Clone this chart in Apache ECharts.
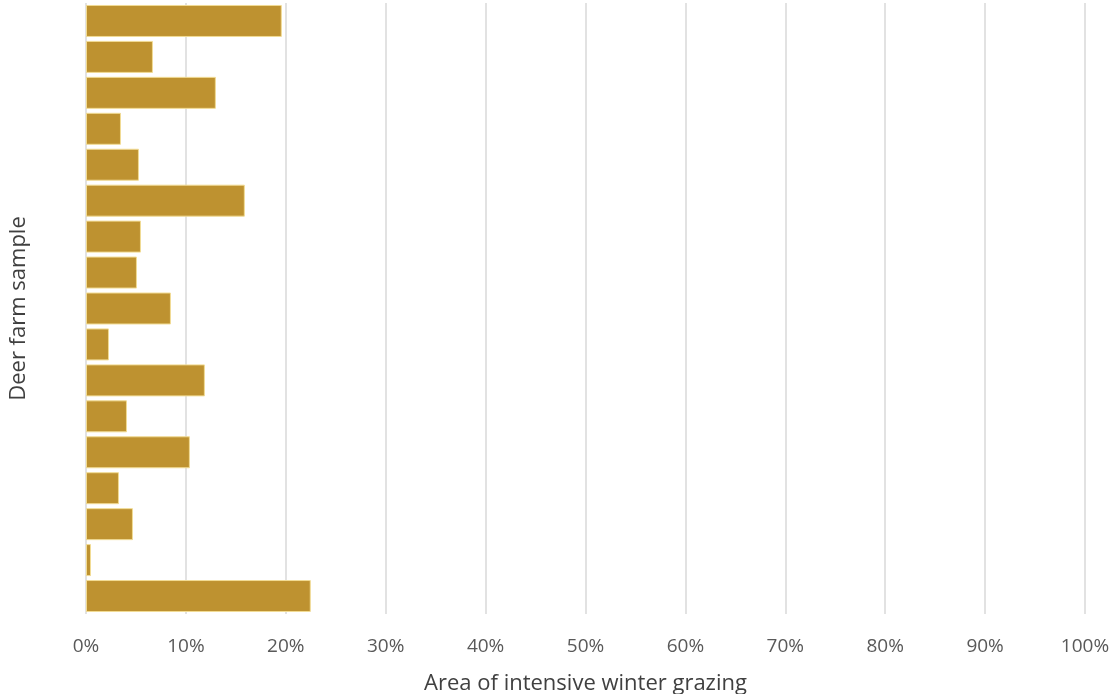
<!DOCTYPE html>
<html>
<head>
<meta charset="utf-8">
<script src="https://cdn.jsdelivr.net/npm/echarts@6/dist/echarts.min.js"></script>
<style>
  html, body { margin: 0; padding: 0; background: #fff; }
  #chart { width: 1113px; height: 694px; }
</style>
</head>
<body>
<div id="chart"></div>
<script>
// Farm samples, top to bottom
const farms = ['1','2','3','4','5','6','7','8','9','10','11','12','13','14','15','16','17'];
// Share of farm area under intensive winter grazing (%)
const grazingShare = [19.6, 6.7, 13.0, 3.5, 5.3, 15.9, 5.5, 5.1, 8.5, 2.3, 11.9, 4.1, 10.4, 3.3, 4.7, 0.5, 22.5];
const xTicks = { min: 0, max: 100, interval: 10 };

const chart = echarts.init(document.getElementById('chart'));
chart.setOption({
  animation: false,
  textStyle: { fontFamily: 'Open Sans, sans-serif' },
  grid: { left: 86, right: 28, top: 3, bottom: 80, containLabel: false, outerBoundsMode: 'none' },
  xAxis: {
    type: 'value',
    min: xTicks.min, max: xTicks.max, interval: xTicks.interval,
    axisLine: { show: false },
    axisTick: { show: false },
    splitLine: { show: true, lineStyle: { color: '#d9d9d9', width: 1.5 } },
    axisLabel: { formatter: '{value}%', color: '#595959', fontSize: 19, margin: 23 },
    name: 'Area of intensive winter grazing',
    nameLocation: 'middle',
    nameGap: 59,
    nameTextStyle: { color: '#404040', fontSize: 22 }
  },
  yAxis: {
    type: 'category',
    data: farms,
    inverse: true,
    axisLine: { show: false },
    axisTick: { show: false },
    axisLabel: { show: false },
    name: 'Deer farm sample',
    nameLocation: 'middle',
    nameGap: 56,
    nameRotate: 90,
    nameTextStyle: { color: '#404040', fontSize: 22 }
  },
  series: [{
    type: 'bar',
    data: grazingShare,
    barCategoryGap: '11%',
    itemStyle: { color: '#be9230', borderColor: '#f2dc95', borderWidth: 1 }
  }]
});
</script>
</body>
</html>
